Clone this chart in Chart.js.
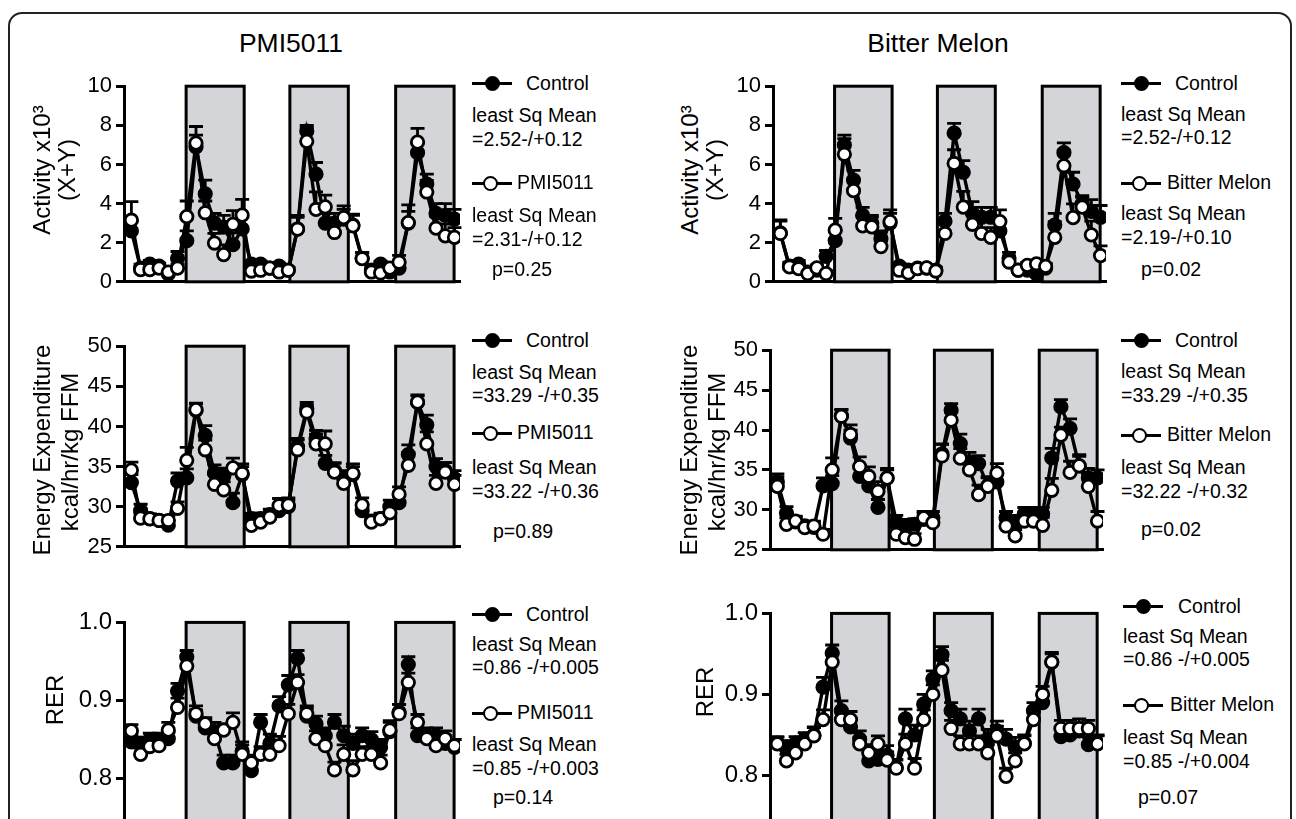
<!DOCTYPE html>
<html>
<head>
<meta charset="utf-8">
<script src="https://cdn.jsdelivr.net/npm/chart.js@4.4.1/dist/chart.umd.min.js"></script>
<style>
body{margin:0;width:1296px;height:819px;overflow:hidden;background:#fff;position:relative;font-family:"Liberation Sans",Arial,sans-serif;color:#000}
.frame{position:absolute;left:8px;top:12px;width:1280px;height:900px;border:2px solid #222;border-radius:14px}
canvas{position:absolute}
.t{position:absolute;white-space:nowrap;line-height:1;transform:translateY(-50%);font-size:19.5px}
.head{position:absolute;white-space:nowrap;line-height:1;font-size:26.5px;transform:translate(-50%,-50%)}
.yt{position:absolute;white-space:nowrap;line-height:1;font-size:24px;transform:translate(-50%,-50%) rotate(-90deg)}
.ln{position:absolute;height:3px;background:#000}
.dot{position:absolute;width:15px;height:15px;border:2.8px solid #000;border-radius:50%;box-sizing:border-box}
</style>
</head>
<body>
<div class="frame"></div>
<div class="head" style="left:291px;top:43px">PMI5011</div>
<div class="head" style="left:938px;top:43px">Bitter Melon</div>
<canvas id="c1"></canvas><canvas id="c2"></canvas><canvas id="c3"></canvas>
<canvas id="c4"></canvas><canvas id="c5"></canvas><canvas id="c6"></canvas>
<div id="labels"></div>
<script>
// 2-hour bins over 3 days
const timeBins = [1,2,3,4,5,6,7,8,9,10,11,12,13,14,15,16,17,18,19,20,21,22,23,24,25,26,27,28,29,30,31,32,33,34,35,36];
const darkStart = [6.93, 18.17, 29.63];
const darkEnd = [13.22, 24.5, 35.96];

const activityTicks = [0, 2, 4, 6, 8, 10];
const energyTicks = [25, 30, 35, 40, 45, 50];
const rerTicks = [0.7, 0.8, 0.9, 1.0];

// Activity x10^3 (X+Y)
const pmiActCtrl = [2.6,0.7,0.9,0.8,0.4,1.2,2.1,6.9,4.5,3.0,2.8,1.9,2.7,0.9,0.9,0.7,0.8,0.6,2.7,7.7,5.5,3.0,3.0,3.2,2.9,1.2,0.6,0.9,0.5,0.7,3.0,6.6,5.0,3.5,3.4,3.2];
const pmiActTreat = [3.15,0.62,0.62,0.7,0.5,0.7,3.33,7.09,3.53,1.98,1.39,2.94,3.41,0.55,0.59,0.7,0.5,0.59,2.69,7.18,3.7,3.83,2.52,3.28,2.86,1.18,0.5,0.45,0.7,1.0,3.03,7.14,4.59,2.74,2.35,2.27];
const pmiActCtrlErr = [0.5,0.2,0.2,0.15,0.15,0.35,0.5,0.6,0.7,0.5,0.6,0.6,0.6,0.15,0.15,0.15,0.15,0.15,0.6,0.3,0.6,0.5,0.5,0.5,0.5,0.3,0.15,0.15,0.15,0.3,0.6,0.5,0.5,0.5,0.6,0.5];
const pmiActTreatErr = [0.95,0.15,0.15,0.15,0.15,0.2,0.8,0.85,0.6,0.5,0.5,0.7,0.8,0.15,0.15,0.15,0.15,0.15,0.7,0.7,0.9,0.6,0.5,0.6,0.6,0.3,0.15,0.15,0.2,0.35,0.9,0.7,0.6,0.6,0.6,0.5];

const bmActCtrl = [2.5,0.8,0.9,0.5,0.6,1.3,2.1,7.0,5.2,3.4,3.0,2.2,3.0,0.8,0.6,0.7,0.7,0.6,3.1,7.6,5.6,3.5,3.3,3.3,2.6,1.2,0.6,0.6,0.4,0.7,2.9,6.6,5.0,4.0,3.6,3.3];
const bmActTreat = [2.47,0.76,0.67,0.42,0.71,0.42,2.64,6.52,4.66,2.86,2.81,1.8,3.08,0.59,0.45,0.67,0.71,0.55,2.47,6.05,3.82,2.94,2.47,2.27,3.08,1.01,0.59,0.84,0.92,0.79,2.27,5.93,3.28,3.82,2.4,1.34];
const bmActCtrlErr = [0.6,0.2,0.2,0.15,0.15,0.3,0.5,0.5,0.5,0.4,0.4,0.4,0.5,0.15,0.15,0.15,0.15,0.15,0.4,0.5,0.6,0.6,0.5,0.5,0.5,0.3,0.15,0.15,0.15,0.2,0.6,0.5,0.6,0.4,0.6,0.6];
const bmActTreatErr = [0.7,0.15,0.15,0.15,0.15,0.15,0.6,0.8,0.6,0.5,0.5,0.5,0.6,0.15,0.15,0.15,0.15,0.15,0.6,0.7,0.8,0.6,0.6,0.5,0.6,0.3,0.15,0.15,0.15,0.15,0.8,0.8,0.7,0.5,0.7,0.5];

// Energy expenditure kcal/hr/kg FFM
const pmiEeCtrl = [33.0,29.5,28.5,28.3,27.7,33.2,33.6,42.0,38.9,34.2,33.8,30.5,34.0,28.5,28.5,29.0,29.5,30.0,37.5,42.2,38.5,35.4,34.5,33.5,34.0,29.5,28.2,28.5,30.0,30.5,36.5,43.0,40.2,35.0,34.5,33.5];
const pmiEeTreat = [34.55,28.57,28.48,28.28,28.28,29.8,35.78,42.09,37.09,32.79,32.09,34.84,34.14,27.66,28.07,28.69,30.12,30.2,37.09,41.8,37.83,37.83,34.3,32.9,34.14,30.2,28.07,28.48,29.22,31.56,35.16,43.03,37.83,32.9,34.3,32.79];
const pmiEeCtrlErr = [1.0,0.8,0.6,0.6,0.6,1.0,1.1,0.8,1.2,1.0,1.0,1.2,1.0,0.7,0.7,0.7,0.8,0.8,1.0,0.8,1.0,1.0,1.0,1.0,1.0,0.8,0.7,0.7,0.8,0.8,1.2,0.8,1.2,1.0,1.0,1.0];
const pmiEeTreatErr = [1.0,0.6,0.6,0.6,0.6,0.8,1.6,0.8,1.2,1.2,1.0,1.2,1.2,0.6,0.7,0.7,0.9,0.9,1.2,0.9,1.2,1.6,1.1,1.0,1.2,0.9,0.6,0.6,0.7,0.9,1.6,0.9,1.5,1.0,1.2,1.1];

const bmEeCtrl = [33.5,29.6,28.5,28.0,27.8,33.0,33.3,41.8,39.0,34.2,33.0,30.3,34.0,28.5,28.0,28.2,28.8,29.0,37.0,42.5,38.3,36.0,35.8,33.0,33.5,29.0,28.5,29.5,29.5,29.5,36.5,42.9,40.2,35.5,34.0,34.0];
const bmEeTreat = [32.95,28.19,28.6,27.77,27.98,26.95,35.02,41.72,39.45,35.43,34.19,32.33,33.98,26.95,26.53,26.32,29.01,28.39,36.75,41.23,36.47,35.02,31.91,32.95,34.6,27.98,26.74,28.6,28.6,28.06,32.45,39.36,34.69,35.51,32.95,28.6];
const bmEeCtrlErr = [1.0,0.8,0.6,0.6,0.6,1.0,1.0,0.8,1.0,1.0,1.0,1.0,1.0,0.8,0.8,0.7,0.8,0.8,1.2,0.8,1.2,1.2,1.0,1.0,1.0,0.8,0.8,0.8,0.8,0.8,1.2,0.9,1.2,1.2,1.2,1.0];
const bmEeTreatErr = [1.2,0.8,0.6,0.6,0.6,0.6,1.5,0.8,1.2,1.2,1.2,1.2,1.2,0.8,0.8,0.7,0.8,0.8,1.5,1.0,1.2,1.4,1.2,1.2,1.2,0.8,0.8,0.8,0.9,1.0,1.5,1.0,1.4,1.4,1.2,1.2];

// RER
const pmiRerCtrl = [0.847,0.845,0.85,0.85,0.851,0.912,0.956,0.88,0.865,0.86,0.82,0.82,0.835,0.81,0.872,0.845,0.893,0.92,0.954,0.88,0.87,0.855,0.872,0.855,0.845,0.855,0.85,0.84,0.86,0.885,0.946,0.855,0.855,0.855,0.845,0.84];
const pmiRerTreat = [0.861,0.831,0.841,0.842,0.862,0.891,0.944,0.883,0.870,0.851,0.862,0.872,0.831,0.820,0.831,0.831,0.842,0.883,0.923,0.883,0.851,0.842,0.811,0.831,0.811,0.831,0.831,0.820,0.862,0.883,0.923,0.872,0.851,0.842,0.851,0.842];
const pmiRerCtrlErr = [0.008,0.008,0.008,0.008,0.008,0.01,0.008,0.008,0.01,0.012,0.01,0.01,0.012,0.012,0.01,0.012,0.012,0.012,0.01,0.01,0.01,0.01,0.01,0.012,0.012,0.01,0.01,0.01,0.012,0.01,0.01,0.01,0.01,0.01,0.01,0.01];
const pmiRerTreatErr = [0.008,0.008,0.008,0.01,0.01,0.012,0.012,0.01,0.008,0.01,0.008,0.012,0.012,0.01,0.01,0.01,0.012,0.012,0.01,0.01,0.01,0.01,0.01,0.012,0.012,0.01,0.01,0.01,0.012,0.012,0.012,0.01,0.01,0.01,0.01,0.008];

const bmRerCtrl = [0.84,0.835,0.84,0.845,0.85,0.909,0.951,0.88,0.86,0.845,0.818,0.82,0.825,0.81,0.87,0.85,0.888,0.919,0.949,0.88,0.87,0.855,0.87,0.845,0.855,0.845,0.835,0.84,0.88,0.89,0.94,0.848,0.85,0.855,0.838,0.84];
const bmRerTreat = [0.839,0.818,0.828,0.839,0.849,0.869,0.94,0.869,0.869,0.839,0.828,0.839,0.819,0.809,0.839,0.809,0.869,0.9,0.93,0.858,0.839,0.839,0.839,0.828,0.849,0.799,0.818,0.839,0.869,0.9,0.94,0.858,0.858,0.858,0.858,0.839];
const bmRerCtrlErr = [0.008,0.008,0.008,0.008,0.01,0.012,0.01,0.012,0.01,0.01,0.01,0.01,0.012,0.01,0.012,0.012,0.012,0.01,0.01,0.01,0.012,0.012,0.012,0.012,0.012,0.012,0.012,0.01,0.01,0.01,0.01,0.01,0.01,0.01,0.01,0.01];
const bmRerTreatErr = [0.008,0.008,0.008,0.008,0.01,0.012,0.012,0.012,0.01,0.008,0.01,0.01,0.01,0.01,0.012,0.012,0.012,0.012,0.012,0.01,0.01,0.01,0.01,0.01,0.012,0.01,0.01,0.01,0.01,0.01,0.012,0.01,0.01,0.012,0.01,0.01];

const shadePlugin = {
  id: 'shade',
  beforeDatasetsDraw(chart) {
    const {ctx, chartArea, scales: {x}} = chart;
    ctx.save();
    ctx.fillStyle = '#d4d5d9';
    ctx.strokeStyle = '#000';
    ctx.lineWidth = 3;
    darkStart.forEach((s, i) => {
      const x1 = x.getPixelForValue(s), x2 = x.getPixelForValue(darkEnd[i]);
      ctx.fillRect(x1, chartArea.top, x2 - x1, chartArea.bottom - chartArea.top);
      ctx.strokeRect(x1, chartArea.top, x2 - x1, chartArea.bottom - chartArea.top);
    });
    ctx.restore();
  }
};

const errorPlugin = {
  id: 'errbars',
  beforeDatasetsDraw(chart) {
    const {ctx, scales: {x, y}} = chart;
    ctx.save();
    ctx.strokeStyle = '#000';
    ctx.lineWidth = 2.8;
    chart.data.datasets.forEach(ds => {
      ds.data.forEach((p, i) => {
        const px = x.getPixelForValue(p.x);
        const py = y.getPixelForValue(p.y);
        const pt = y.getPixelForValue(p.y + ds.errs[i]);
        ctx.beginPath();
        ctx.moveTo(px, py); ctx.lineTo(px, pt);
        ctx.moveTo(px - 7, pt); ctx.lineTo(px + 7, pt);
        ctx.stroke();
      });
    });
    ctx.restore();
  }
};

function makePanel(id, box, ctrl, treat, ctrlErr, treatErr, ticks, tickFont, fmt) {
  const padT = 16, padB = 16, padR = 6, yW = 70;
  const cv = document.getElementById(id);
  cv.width = Math.round(box.right - box.left) + yW + padR;
  cv.height = Math.round(box.bottom - box.top) + padT + padB;
  cv.style.left = (box.left - yW) + 'px';
  cv.style.top = (box.top - padT) + 'px';
  const pts = arr => arr.map((v, i) => ({x: timeBins[i], y: v}));
  new Chart(cv, {
    type: 'line',
    data: {
      datasets: [
        {data: pts(treat), errs: treatErr, borderColor: '#000', borderWidth: 3.4,
         pointRadius: 6.2, pointBorderWidth: 2.8, pointBackgroundColor: '#fff', pointBorderColor: '#000', tension: 0},
        {data: pts(ctrl), errs: ctrlErr, borderColor: '#000', borderWidth: 3.4,
         pointRadius: 6.2, pointBorderWidth: 2.8, pointBackgroundColor: '#000', pointBorderColor: '#000', tension: 0}
      ]
    },
    options: {
      responsive: false,
      animation: false,
      layout: {padding: {top: padT, bottom: padB, right: padR, left: 0}},
      plugins: {legend: {display: false}, tooltip: {enabled: false}},
      scales: {
        x: {
          type: 'linear', min: 0.2, max: 36.6,
          ticks: {display: false},
          grid: {display: false},
          border: {display: true, width: 3, color: '#000'},
          afterFit: s => { s.height = 0; }
        },
        y: {
          min: ticks[0], max: ticks[ticks.length - 1],
          afterBuildTicks: s => { s.ticks = ticks.map(v => ({value: v})); },
          ticks: {color: '#000', font: {family: '"Liberation Sans", Arial', size: tickFont}, padding: 4, callback: fmt},
          grid: {drawOnChartArea: false, drawTicks: true, tickLength: 8, lineWidth: 3, color: '#000'},
          border: {width: 3, color: '#000'},
          afterFit: s => { s.width = yW; }
        }
      }
    },
    plugins: [shadePlugin, errorPlugin]
  });
}

const intFmt = v => String(v);
const decFmt = v => v.toFixed(1);

makePanel('c1', {left: 124, right: 463, top: 85, bottom: 283}, pmiActCtrl, pmiActTreat, pmiActCtrlErr, pmiActTreatErr, activityTicks, 22, intFmt);
makePanel('c2', {left: 773, right: 1109, top: 85, bottom: 283}, bmActCtrl, bmActTreat, bmActCtrlErr, bmActTreatErr, activityTicks, 22, intFmt);
makePanel('c3', {left: 124, right: 463, top: 345, bottom: 548}, pmiEeCtrl, pmiEeTreat, pmiEeCtrlErr, pmiEeTreatErr, energyTicks, 22, intFmt);
makePanel('c4', {left: 770, right: 1106, top: 349, bottom: 551}, bmEeCtrl, bmEeTreat, bmEeCtrlErr, bmEeTreatErr, energyTicks, 22, intFmt);
makePanel('c5', {left: 124, right: 463, top: 620, bottom: 859}, pmiRerCtrl, pmiRerTreat, pmiRerCtrlErr, pmiRerTreatErr, rerTicks, 24, decFmt);
makePanel('c6', {left: 770, right: 1106, top: 611, bottom: 859}, bmRerCtrl, bmRerTreat, bmRerCtrlErr, bmRerTreatErr, rerTicks, 24, decFmt);

// axis titles and legend text
const host = document.getElementById('labels');
function add(cls, text, css) {
  const d = document.createElement('div');
  d.className = cls; d.textContent = text; d.style.cssText = css;
  host.appendChild(d);
}
function marker(x1, cx, cy, filled) {
  add('ln', '', `left:${x1}px;top:${cy - 1.5}px;width:40px`);
  add('dot', '', `left:${cx - 7.5}px;top:${cy - 7.5}px;background:${filled ? '#000' : '#fff'}`);
}

add('yt', 'Activity x10³', 'left:42px;top:170px');
add('yt', '(X+Y)', 'left:67px;top:170px');
add('yt', 'Activity x10³', 'left:690px;top:170px');
add('yt', '(X+Y)', 'left:715px;top:170px');
add('yt', 'Energy Expenditure', 'left:42px;top:450px');
add('yt', 'kcal/hr/kg FFM', 'left:70px;top:452px');
add('yt', 'Energy Expenditure', 'left:689px;top:450px');
add('yt', 'kcal/hr/kg FFM', 'left:717px;top:452px');
add('yt', 'RER', 'left:55px;top:700px');
add('yt', 'RER', 'left:705px;top:692px');

const legends = [
  {x: 472, tx: 526, ox: 517, px: 492, ys: [83, 116, 140, 183, 216, 240, 270], name: 'PMI5011', m1: '=2.52-/+0.12', m2: '=2.31-/+0.12', p: 'p=0.25'},
  {x: 1121, tx: 1175, ox: 1167, px: 1141, ys: [83, 115, 138, 183, 214, 238, 270], name: 'Bitter Melon', m1: '=2.52-/+0.12', m2: '=2.19-/+0.10', p: 'p=0.02'},
  {x: 472, tx: 526, ox: 517, px: 493, ys: [340, 373, 396, 433, 468, 492, 532], name: 'PMI5011', m1: '=33.29 -/+0.35', m2: '=33.22 -/+0.36', p: 'p=0.89'},
  {x: 1121, tx: 1175, ox: 1167, px: 1141, ys: [340, 372, 396, 435, 468, 492, 530], name: 'Bitter Melon', m1: '=33.29 -/+0.35', m2: '=32.22 -/+0.32', p: 'p=0.02'},
  {x: 472, tx: 526, ox: 517, px: 493, ys: [614, 645, 668, 713, 745, 769, 798], name: 'PMI5011', m1: '=0.86 -/+0.005', m2: '=0.85 -/+0.003', p: 'p=0.14'},
  {x: 1123, tx: 1178, ox: 1170, px: 1138, ys: [606, 637, 660, 705, 738, 762, 798], name: 'Bitter Melon', m1: '=0.86 -/+0.005', m2: '=0.85 -/+0.004', p: 'p=0.07'}
];
legends.forEach(l => {
  marker(l.x, l.x + 20, l.ys[0], true);
  add('t', 'Control', `left:${l.tx}px;top:${l.ys[0] + 1}px`);
  add('t', 'least Sq Mean', `left:${l.x}px;top:${l.ys[1]}px`);
  add('t', l.m1, `left:${l.x}px;top:${l.ys[2]}px`);
  marker(l.x, l.x + 18, l.ys[3], false);
  add('t', l.name, `left:${l.ox}px;top:${l.ys[3]}px`);
  add('t', 'least Sq Mean', `left:${l.x}px;top:${l.ys[4]}px`);
  add('t', l.m2, `left:${l.x}px;top:${l.ys[5]}px`);
  add('t', l.p, `left:${l.px}px;top:${l.ys[6]}px`);
});
</script>
</body>
</html>
